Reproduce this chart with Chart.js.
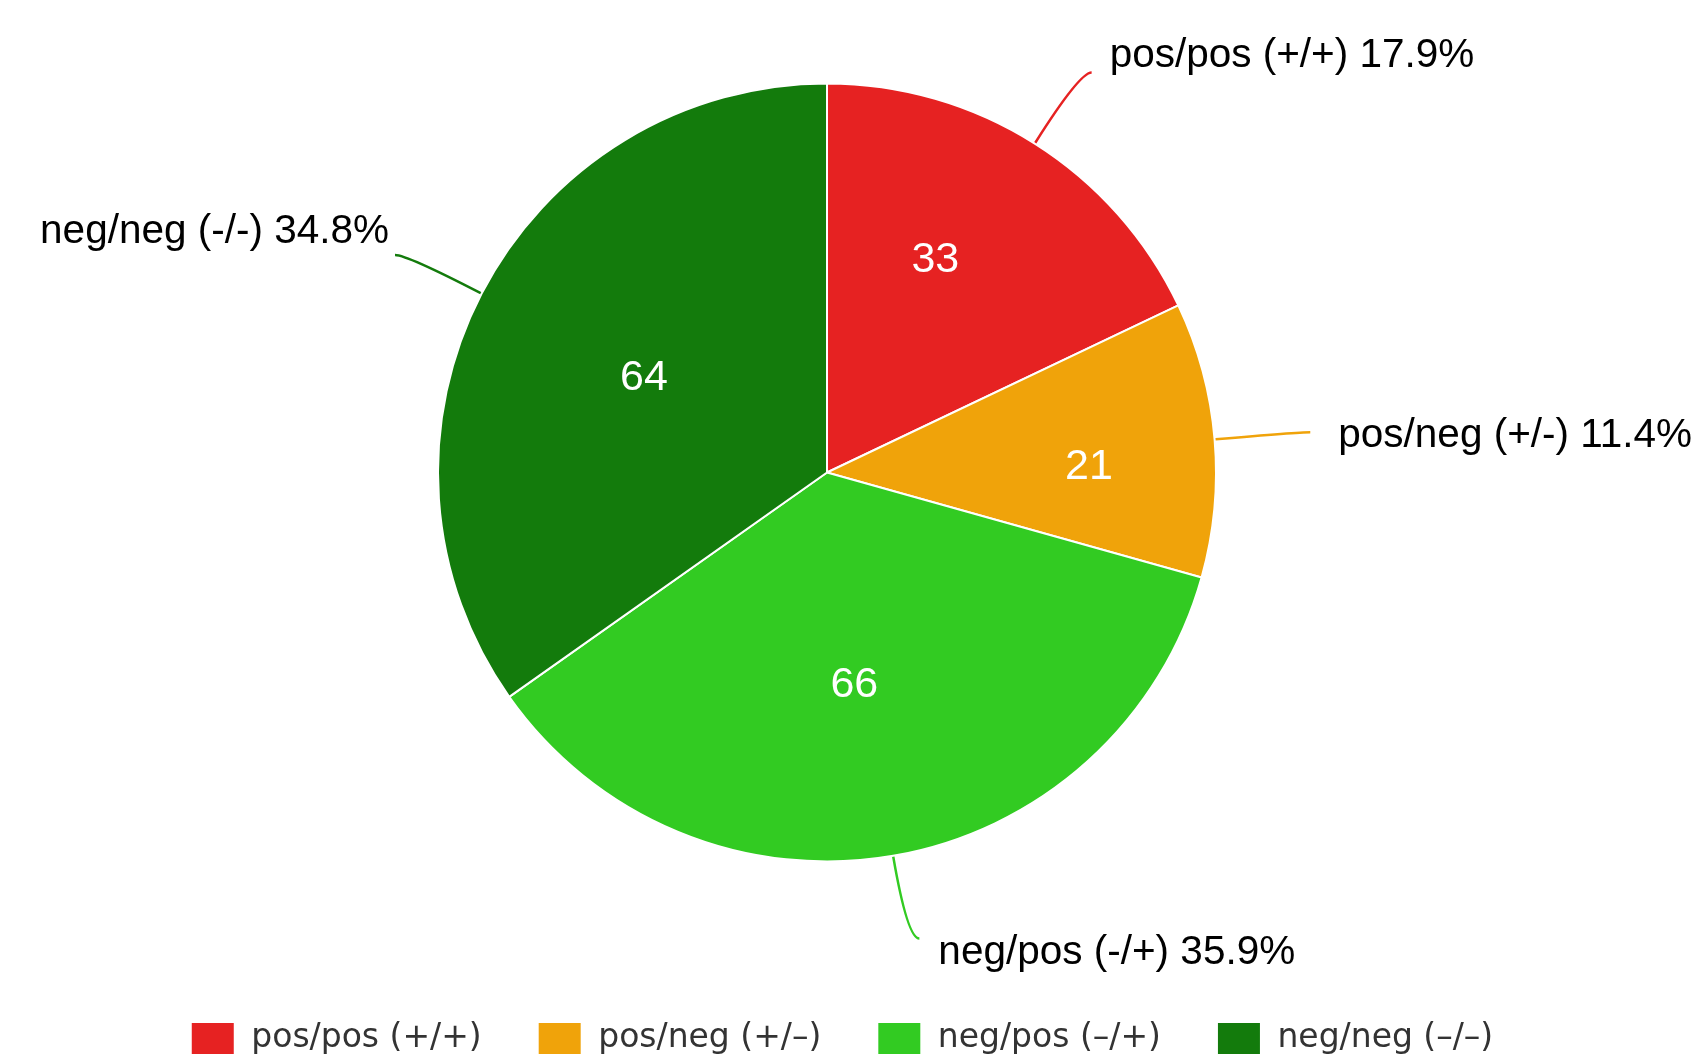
<!DOCTYPE html>
<html>
<head>
<meta charset="utf-8">
<script src="https://cdn.jsdelivr.net/npm/chart.js@4.4.0/dist/chart.umd.min.js"></script>
<style>
  html, body { margin: 0; padding: 0; background: #ffffff; }
  #wrap { width: 1692px; height: 1060px; }
</style>
</head>
<body>
<div id="wrap"><canvas id="c" width="1692" height="1060"></canvas></div>
<script>
// ---- data ----
const legendLabels = ['pos/pos (+/+)', 'pos/neg (+/–)', 'neg/pos (–/+)', 'neg/neg (–/–)'];
const calloutNames = ['pos/pos (+/+)', 'pos/neg (+/-)', 'neg/pos (-/+)', 'neg/neg (-/-)'];
const counts = [33, 21, 66, 64];
const sliceColors = ['#e62222', '#f0a30a', '#32cb22', '#137b0c'];

// ---- plugins ----
const legendNudge = {
  id: 'legendNudge',
  afterLayout(chart, args, opts) {
    const l = chart.legend;
    if (!l) return;
    l.left += opts.dx; l.right += opts.dx;
    l.top += opts.dy; l.bottom += opts.dy;
  }
};

const sliceValues = {
  id: 'sliceValues',
  afterDatasetsDraw(chart, args, opts) {
    const ctx = chart.ctx;
    const meta = chart.getDatasetMeta(0);
    const ds = chart.data.datasets[0];
    ctx.save();
    ctx.font = opts.font;
    ctx.fillStyle = opts.color;
    ctx.textAlign = 'center';
    ctx.textBaseline = 'middle';
    meta.data.forEach((arc, i) => {
      const p = arc.getProps(['x', 'y', 'startAngle', 'endAngle', 'outerRadius'], true);
      const theta = p.endAngle - p.startAngle;
      const mid = (p.startAngle + p.endAngle) / 2;
      const d = 4 * p.outerRadius * Math.sin(theta / 2) / (3 * theta); // sector centroid
      const n = opts.nudge[i] || [0, 0];
      ctx.fillText(String(ds.data[i]), p.x + Math.cos(mid) * d + n[0], p.y + Math.sin(mid) * d + n[1]);
    });
    ctx.restore();
  }
};

const callouts = {
  id: 'callouts',
  afterDatasetsDraw(chart, args, opts) {
    const ctx = chart.ctx;
    const meta = chart.getDatasetMeta(0);
    const data = chart.data.datasets[0].data;
    const total = data.reduce((a, b) => a + b, 0);
    ctx.save();
    meta.data.forEach((arc, i) => {
      const p = arc.getProps(['x', 'y', 'startAngle', 'endAngle', 'outerRadius'], true);
      const mid = (p.startAngle + p.endAngle) / 2;
      const cos = Math.cos(mid), sin = Math.sin(mid);
      const side = cos >= 0 ? 1 : -1;
      const p0 = { x: p.x + cos * (p.outerRadius + 1), y: p.y + sin * (p.outerRadius + 1) };
      const c = { x: p.x + cos * p.outerRadius * opts.elbow, y: p.y + sin * p.outerRadius * opts.elbow };
      const p2 = { x: c.x + side * opts.hook, y: c.y };
      ctx.strokeStyle = sliceColors[i];
      ctx.lineWidth = 2.5;
      ctx.beginPath();
      ctx.moveTo(p0.x, p0.y);
      ctx.quadraticCurveTo(c.x, c.y, p2.x, p2.y);
      ctx.stroke();
      const pct = (data[i] / total * 100).toFixed(1) + '%';
      const off = opts.textOffset[i];
      ctx.font = opts.font;
      ctx.fillStyle = opts.color;
      ctx.textAlign = side > 0 ? 'left' : 'right';
      ctx.textBaseline = 'alphabetic';
      ctx.fillText(calloutNames[i] + ' ' + pct, p2.x + off[0], p2.y + off[1]);
    });
    ctx.restore();
  }
};

// ---- chart ----
new Chart(document.getElementById('c'), {
  type: 'pie',
  data: {
    labels: legendLabels,
    datasets: [{
      data: counts,
      backgroundColor: sliceColors,
      borderColor: '#ffffff',
      borderWidth: 2,
      hoverOffset: 0
    }]
  },
  options: {
    responsive: false,
    animation: false,
    events: [],
    radius: 389,
    layout: { padding: { left: 0, right: 38, top: 0, bottom: 16 } },
    plugins: {
      tooltip: { enabled: false },
      legend: {
        position: 'bottom',
        labels: {
          boxWidth: 44,
          boxHeight: 33,
          padding: 56,
          color: '#333333',
          font: { family: '"DejaVu Sans"', size: 33 }
        }
      },
      legendNudge: { dx: 15, dy: 21 },
      sliceValues: {
        font: '43px "Liberation Sans", Arial, sans-serif',
        color: '#ffffff',
        nudge: [[-23, -5], [9, 16], [-8, 8], [4, 3]]
      },
      callouts: {
        elbow: 473 / 389,
        hook: 12,
        font: '40.5px "Liberation Sans", Arial, sans-serif',
        color: '#000000',
        textOffset: [[18, -6], [28, 15], [19, 25], [-6, -12]]
      }
    }
  },
  plugins: [legendNudge, sliceValues, callouts]
});
</script>
</body>
</html>
